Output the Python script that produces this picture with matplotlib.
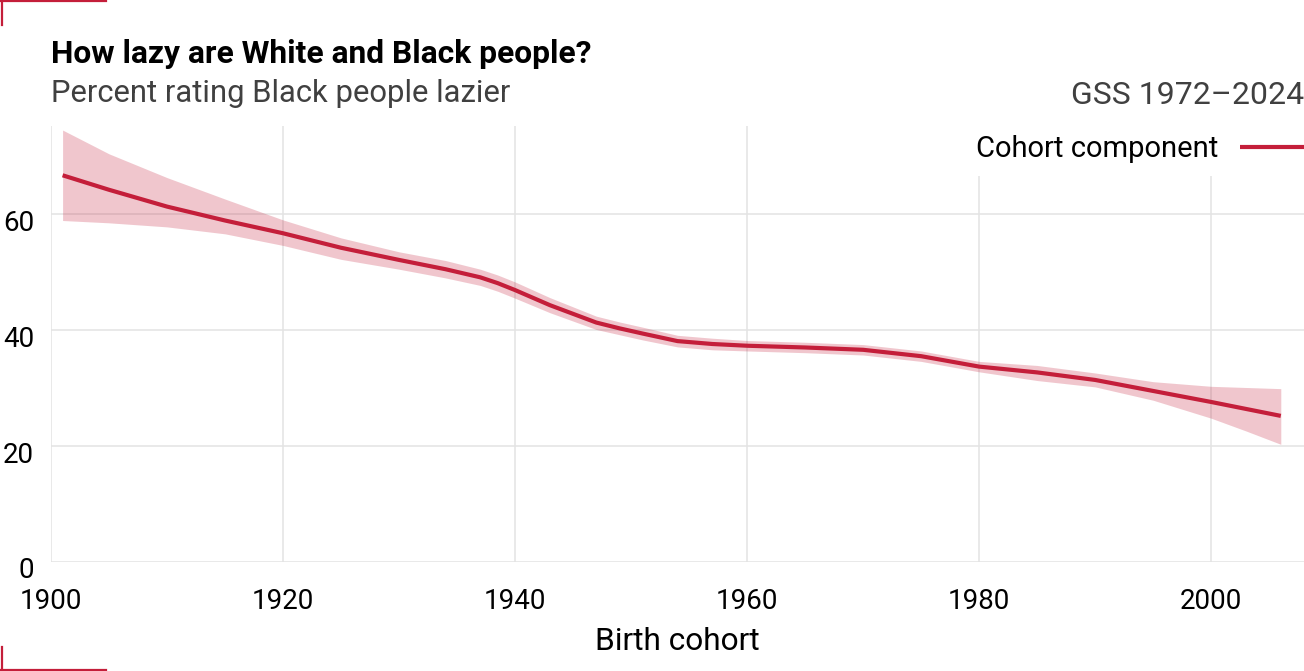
import numpy as np
import matplotlib.pyplot as plt
from matplotlib.lines import Line2D
import matplotlib.transforms as mtransforms

plt.rcParams['font.family'] = ['Roboto', 'DejaVu Sans']

# values
years = [1901, 1905, 1910, 1915, 1920, 1925, 1930, 1934, 1937, 1938.5, 1940, 1943,
         1947, 1949, 1951, 1954, 1957, 1960, 1965, 1970, 1975, 1980, 1985, 1990,
         1995, 2000, 2003, 2006]
cohort = [66.7, 64.2, 61.3, 58.9, 56.7, 54.2, 52.1, 50.5, 49.1, 48.1, 46.9, 44.3,
          41.3, 40.3, 39.4, 38.1, 37.6, 37.3, 37.0, 36.6, 35.5, 33.7, 32.7, 31.4,
          29.5, 27.6, 26.4, 25.2]
upper = [74.5, 70.4, 66.3, 62.6, 59.0, 55.9, 53.5, 52.0, 50.5, 49.5, 48.3, 45.6,
         42.4, 41.4, 40.5, 39.1, 38.6, 38.2, 37.9, 37.5, 36.4, 34.6, 33.9, 32.6,
         31.1, 30.3, 30.1, 29.9]
lower = [58.9, 58.5, 57.8, 56.6, 54.6, 52.2, 50.5, 49.0, 47.7, 46.7, 45.5, 43.0,
         40.1, 39.2, 38.3, 37.1, 36.6, 36.4, 36.1, 35.7, 34.6, 32.8, 31.3, 30.2,
         27.9, 24.8, 22.6, 20.3]

xticks = [1900, 1920, 1940, 1960, 1980, 2000]
yticks = [0, 20, 40, 60]

red = '#C41E3A'
W, H = 1304, 671

fig = plt.figure(figsize=(W / 100, H / 100), dpi=100)
ax = fig.add_axes([51 / W, 1 - 562 / H, 1 - 51 / W, (562 - 126) / H])

ax.fill_between(years, lower, upper, color=red, alpha=0.25, lw=0, zorder=2)
ax.plot(years, cohort, color=red, lw=3, solid_capstyle='butt',
        solid_joinstyle='round', zorder=3, label='Cohort component')

ax.set_xlim(1900, 2008)
ax.set_ylim(0, 75.2)
ax.set_xticks(xticks)
ax.set_yticks(yticks)
ax.grid(True, color='#E3E3E3', lw=1.1, zorder=0)
ax.set_axisbelow(True)
for s in ax.spines.values():
    s.set_visible(False)
ax.tick_params(length=0, labelsize=20, colors='black')
ax.tick_params(axis='y', pad=12)
ax.tick_params(axis='x', pad=19)

# y labels sit a bit below their gridlines in the reference
off = mtransforms.ScaledTranslation(0, -6 / 100, fig.dpi_scale_trans)
for lab in ax.get_yticklabels():
    lab.set_transform(lab.get_transform() + off)

leg = ax.legend(loc='upper right', bbox_to_anchor=(1.011, 1.009), markerfirst=False,
                fontsize=21, frameon=True, facecolor='white', edgecolor='none',
                framealpha=1, fancybox=False, handlelength=2.2, handletextpad=0.75,
                borderpad=0.45, borderaxespad=0)
leg.set_zorder(5)

fig.text((51 + 1304) / 2 / W, 1 - 650 / H, 'Birth cohort', ha='center',
         va='baseline', fontsize=22.8)

fig.text(51 / W, 1 - 63 / H, 'How lazy are White and Black people?',
         fontsize=22.9, fontweight='bold', va='baseline', ha='left')
fig.text(51 / W, 1 - 101.5 / H, 'Percent rating Black people lazier',
         fontsize=22.3, color='#404040', va='baseline', ha='left')
fig.text(1.0, 1 - 104 / H, 'GSS 1972–2024', fontsize=23, color='#404040',
         va='baseline', ha='right')

# corner marks
for xs, ys in [([0, 106 / W], [1 - 1 / H] * 2),
               ([1.5 / W] * 2, [1, 1 - 25 / H]),
               ([1.5 / W] * 2, [1 - 647 / H, 0]),
               ([0, 106 / W], [1.5 / H] * 2)]:
    fig.add_artist(Line2D(xs, ys, color=red, lw=1.6, transform=fig.transFigure))

fig.savefig('out.png', dpi=100)
